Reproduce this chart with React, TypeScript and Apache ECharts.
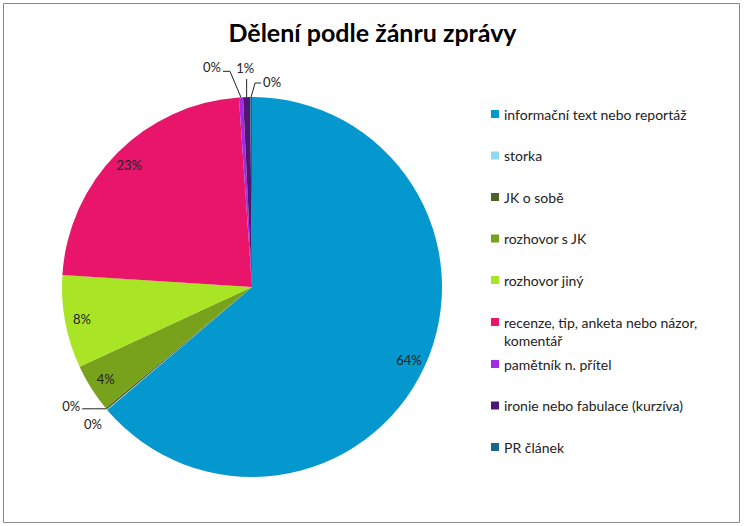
import { useEffect, useRef } from "react";
import * as echarts from "echarts";

const categories = [
  "informační text nebo reportáž",
  "storka",
  "JK o sobě",
  "rozhovor s JK",
  "rozhovor jiný",
  "recenze, tip, anketa nebo názor, komentář",
  "pamětník n. přítel",
  "ironie nebo fabulace (kurzíva)",
  "PR článek",
];
const shares = [63.8, 0.05, 0.15, 4.1, 7.9, 22.9, 0.35, 0.6, 0.15];
const colors = [
  "#0598ce",
  "#8ed8f2",
  "#4f6228",
  "#78a21c",
  "#a9e524",
  "#e8156b",
  "#a12ce0",
  "#4e1870",
  "#176a8c",
];

// where the small-slice labels sit, relative to the point on the pie edge:
// [line bend, line end, label anchor, align]
const smallLabelOffsets: Record<number, [number[], number[], number[], string]> = {
  1: [[0, 0], [0, 0], [-14, 14], "center"],
  2: [[-12, 0], [-24, 0], [-26, -3], "right"],
  6: [[-11, -26], [-18, -26], [-20, -30], "right"],
  7: [[0, -9], [0, -18], [-1.5, -29], "center"],
  8: [[4, -14], [10, -14], [12, -15], "left"],
};

export default function App() {
  const chartRef = useRef<HTMLDivElement>(null);

  useEffect(() => {
    if (!chartRef.current) return;
    const chart = echarts.init(chartRef.current, null, { renderer: "svg" });
    const font = "Lato, 'Open Sans', sans-serif";
    const legendBase = {
      orient: "vertical",
      left: 491,
      padding: 0,
      itemGap: 23.5,
      itemWidth: 8,
      itemHeight: 8,
      icon: "rect",
      textStyle: { fontFamily: font, fontSize: 14, color: "#222", lineHeight: 18 },
      // long names wrap after their last comma; the leading blank line keeps
      // the first text line level with the colour square
      formatter: (name: string) =>
        name.length > 32 ? "\n" + name.replace(/,\s(?=[^,]*$)/, ",\n") : name,
    };

    chart.setOption({
      animation: false,
      backgroundColor: "#fff",
      title: {
        text: "Dělení podle žánru zprávy",
        left: "center",
        top: 14,
        textStyle: { fontFamily: font, fontSize: 25, fontWeight: "bold", color: "#000" },
      },
      legend: [
        { ...legendBase, top: 105, data: categories.slice(0, 5) },
        { ...legendBase, top: 295, data: categories.slice(5, 6) },
        { ...legendBase, top: 355, data: categories.slice(6) },
      ],
      graphic: [
        {
          type: "rect",
          silent: true,
          shape: { x: 3.5, y: 3.5, width: 736, height: 519 },
          style: { fill: "none", stroke: "#888", lineWidth: 1 },
        },
      ],
      series: [
        {
          type: "pie",
          name: "slices",
          center: [252, 287],
          radius: [0, 190],
          startAngle: 90,
          silent: true,
          label: { show: false },
          labelLine: { show: false },
          data: categories.map((name, i) => ({
            name,
            value: shares[i],
            itemStyle: { color: colors[i] },
          })),
        },
        {
          // transparent ring only used to place the percentage labels
          type: "pie",
          name: "labels",
          center: [252, 287],
          radius: [150, 190],
          startAngle: 90,
          silent: true,
          percentPrecision: 0,
          itemStyle: { color: "transparent" },
          label: { formatter: "{d}%", color: "#222", fontFamily: font, fontSize: 13 },
          labelLine: { length: 8, length2: 10, lineStyle: { color: "#222", width: 1 } },
          labelLayout: (params: any) => {
            const off = smallLabelOffsets[params.dataIndex];
            if (params.seriesIndex !== 1 || !off || !params.labelLinePoints) return {};
            const p0 = params.labelLinePoints[0];
            const [bend, end, anchor, align] = off;
            return {
              x: p0[0] + anchor[0],
              y: p0[1] + anchor[1],
              align,
              verticalAlign: "middle",
              labelLinePoints: [
                [p0[0], p0[1]],
                [p0[0] + bend[0], p0[1] + bend[1]],
                [p0[0] + end[0], p0[1] + end[1]],
              ],
            };
          },
          data: categories.map((name, i) => ({
            name,
            value: shares[i],
            label: { position: shares[i] < 1 ? "outside" : "inside" },
            labelLine: { show: shares[i] < 1 },
          })),
        },
      ],
    });

    return () => chart.dispose();
  }, []);

  return (
    <div
      ref={chartRef}
      style={{ position: "fixed", left: 0, top: 0, width: 745, height: 526 }}
    />
  );
}
